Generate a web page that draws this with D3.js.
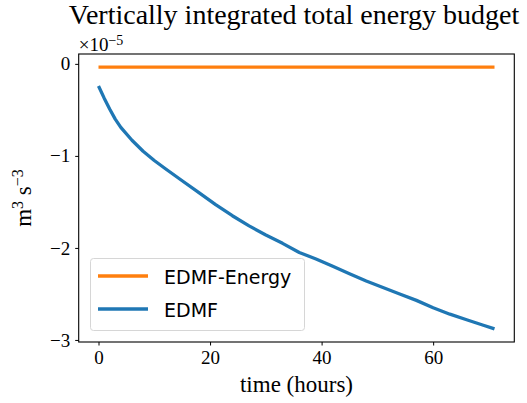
<!DOCTYPE html>
<html>
<head>
<meta charset="utf-8">
<script src="https://cdn.jsdelivr.net/npm/d3@7"></script>
<style>
  body { margin: 0; background: #fff; }
  svg { display: block; }
</style>
</head>
<body>
<div id="chart"></div>
<script>
// values, in units of 1e-5 m^3 s^-3
const edmfHours = [0, 1, 2, 3, 4, 6, 8, 10, 12, 15, 18, 21, 24, 27, 30, 33, 36, 39, 42, 45, 48, 51, 54, 57, 60, 63, 66, 69, 71];
const edmfValues = [-0.24, -0.37, -0.49, -0.60, -0.69, -0.83, -0.95, -1.05, -1.14, -1.27, -1.40, -1.53, -1.65, -1.76, -1.86, -1.95, -2.05, -2.12, -2.20, -2.28, -2.36, -2.43, -2.50, -2.57, -2.65, -2.72, -2.78, -2.84, -2.88];
const energyHours = [0, 71];
const energyValues = [-0.035, -0.035];
const xTicks = [0, 20, 40, 60];
const yTicks = [0, -1, -2, -3];
const seriesNames = ["EDMF-Energy", "EDMF"];
const seriesColors = ["#ff7f0e", "#1f77b4"];

const W = 527, H = 403;
const plotLeft = 78.7, plotRight = 514.3, plotTop = 54, plotBottom = 342;
const serif = "'Liberation Serif', 'DejaVu Serif', serif";

const svg = d3.select("#chart").append("svg")
  .attr("width", W)
  .attr("height", H);

// matplotlib style autoscale with 5% margins
function pad(ext) {
  const s = ext[1] - ext[0];
  return [ext[0] - 0.05 * s, ext[1] + 0.05 * s];
}
const xExt = pad(d3.extent(edmfHours.concat(energyHours)));
const yExt = pad(d3.extent(edmfValues.concat(energyValues)));

const x = d3.scaleLinear().domain(xExt).range([plotLeft, plotRight]);
const y = d3.scaleLinear().domain(yExt).range([plotBottom, plotTop]);

const fmt = d => d === 0 ? "0" : "\u2212" + Math.abs(d);

// x axis
const xAxis = svg.append("g")
  .attr("transform", `translate(0,${plotBottom})`)
  .call(d3.axisBottom(x).tickValues(xTicks).tickSize(3.5).tickPadding(5).tickFormat(d => d));
xAxis.select(".domain").remove();
xAxis.selectAll("text")
  .attr("font-family", serif)
  .attr("font-size", 19)
  .attr("fill", "#000");

// y axis
const yAxis = svg.append("g")
  .attr("transform", `translate(${plotLeft},0)`)
  .call(d3.axisLeft(y).tickValues(yTicks).tickSize(3.5).tickPadding(5).tickFormat(fmt));
yAxis.select(".domain").remove();
yAxis.selectAll("text")
  .attr("font-family", serif)
  .attr("font-size", 19)
  .attr("fill", "#000");

// lines
const line = d3.line()
  .x(d => x(d[0]))
  .y(d => y(d[1]));

svg.append("path")
  .datum(d3.zip(energyHours, energyValues))
  .attr("d", line)
  .attr("fill", "none")
  .attr("stroke", seriesColors[0])
  .attr("stroke-width", 3.3);

svg.append("path")
  .datum(d3.zip(edmfHours, edmfValues))
  .attr("d", line)
  .attr("fill", "none")
  .attr("stroke", seriesColors[1])
  .attr("stroke-width", 3.3)
  .attr("stroke-linejoin", "round");

// frame
svg.append("rect")
  .attr("x", plotLeft)
  .attr("y", plotTop)
  .attr("width", plotRight - plotLeft)
  .attr("height", plotBottom - plotTop)
  .attr("fill", "none")
  .attr("stroke", "#000")
  .attr("stroke-width", 1.1);

// title
svg.append("text")
  .attr("x", 294)
  .attr("y", 24)
  .attr("text-anchor", "middle")
  .attr("font-family", serif)
  .attr("font-size", 28)
  .text("Vertically integrated total energy budget");

// offset text
const off = svg.append("text")
  .attr("x", plotLeft)
  .attr("y", 51)
  .attr("font-family", serif)
  .attr("font-size", 19);
off.append("tspan").text("\u00d710");
off.append("tspan").attr("dy", -6.5).attr("font-size", 14).text("\u22125");

// x label
svg.append("text")
  .attr("x", (plotLeft + plotRight) / 2)
  .attr("y", 392)
  .attr("text-anchor", "middle")
  .attr("font-family", serif)
  .attr("font-size", 23)
  .text("time (hours)");

// y label
const yl = svg.append("text")
  .attr("transform", `translate(31,${(plotTop + plotBottom) / 2}) rotate(-90)`)
  .attr("text-anchor", "middle")
  .attr("font-family", serif)
  .attr("font-size", 23);
yl.append("tspan").text("m");
yl.append("tspan").attr("dy", -8).attr("font-size", 16).text("3");
yl.append("tspan").attr("dy", 8).text(" s");
yl.append("tspan").attr("dy", -8).attr("font-size", 16).text("\u22123");

// legend
const lg = svg.append("g");
lg.append("rect")
  .attr("x", 90.5)
  .attr("y", 258.5)
  .attr("width", 214)
  .attr("height", 72)
  .attr("rx", 3)
  .attr("fill", "#fff")
  .attr("fill-opacity", 0.8)
  .attr("stroke", "#d6d6d6")
  .attr("stroke-width", 1);

const rows = lg.selectAll("g.row")
  .data(seriesNames)
  .enter().append("g")
  .attr("class", "row")
  .attr("transform", (d, i) => `translate(0,${276 + i * 33})`);

rows.append("line")
  .attr("x1", 98)
  .attr("x2", 148)
  .attr("stroke", (d, i) => seriesColors[i])
  .attr("stroke-width", 3.3);

rows.append("text")
  .attr("x", 164)
  .attr("y", 7.5)
  .attr("font-family", "'DejaVu Sans', sans-serif")
  .attr("font-size", 19)
  .text(d => d);
</script>
</body>
</html>
